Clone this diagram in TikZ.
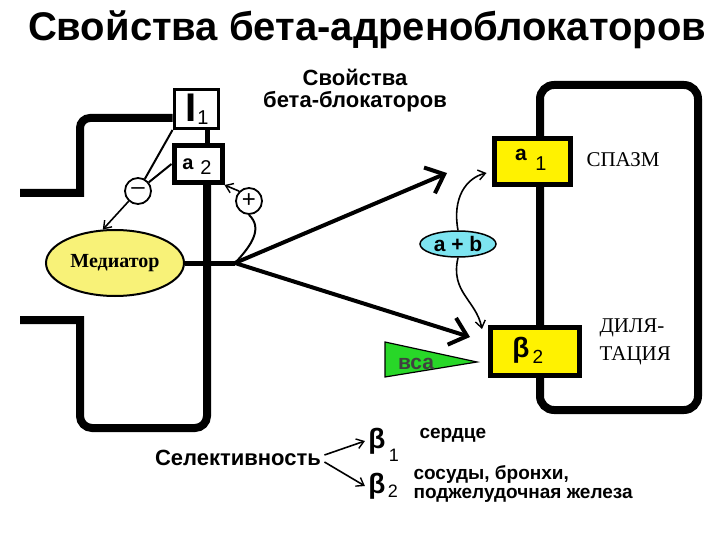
\documentclass[tikz,border=0pt]{standalone}
\usepackage{fontspec}
\setmainfont{Liberation Sans}
\newfontfamily\rmsl{Liberation Serif}
\usetikzlibrary{positioning,calc,shapes,arrows.meta,backgrounds}

\definecolor{medyellow}{RGB}{248,242,120}
\definecolor{abcyan}{RGB}{125,228,240}
\definecolor{vcagreen}{RGB}{40,215,40}

\newcommand{\fs}[1]{\fontsize{#1}{#1}\selectfont}

\begin{document}
\begin{tikzpicture}[x=1pt,y=-1pt,
membrane/.style={line width=8pt},
receptor/.style={rectangle, draw, line width=5pt, fill=yellow, inner sep=0pt, font=\bfseries\fs{18}},
autorec/.style={rectangle, draw, line width=3pt, fill=white, inner sep=0pt},
sign/.style={circle, draw, line width=1.8pt, fill=white, minimum size=26pt, inner sep=0pt, font=\fs{24}},
thinline/.style={line width=2pt},
thinarrow/.style={line width=1.6pt, -{Straight Barb[length=7pt,width=10pt,line width=1.4pt]}},
bigarrow/.style={line width=4pt, -{Straight Barb[length=16pt,width=28pt,line width=4pt]}},
label/.style={font=\bfseries\fs{19}}
]
\useasboundingbox (0,0) rectangle (720,540);

% titles
\node at (367,30) (title) {\bfseries\fs{40}Свойства бета-адреноблокаторов};
\node [align=center, font=\bfseries\fs{22}, text depth=0pt] at (355,88) (sub) {Свойства\\[0pt]бета-блокаторов};

% presynaptic side
\node [autorec, minimum width=44pt, minimum height=39pt] at (196,109) (I1) {};
\node at (191,108) {\bfseries\fs{40}I};
\node at (203,118) {\fs{20}1};
\node [autorec, line width=5pt, minimum width=48pt, minimum height=37pt] at (198,164) (a2) {};
\node at (188,164) {\bfseries\fs{20}a};
\node at (206,168) {\fs{20}2};

\node [ellipse, draw, line width=2pt, fill=medyellow, minimum width=138pt, minimum height=66pt, font=\rmsl\bfseries\fs{20}] at (115,263) (med) {Медиатор};
\coordinate (jn) at (235,263);

\node [sign] at (138,191) (minus) {–};
\node [sign] at (249,201) (plus) {+};

% postsynaptic side
\node [receptor, minimum width=76pt, minimum height=46pt] at (532,162) (a1) {};
\node at (521,155) {\bfseries\fs{21}a};
\node at (541,164) {\fs{20}1};
\node [receptor, minimum width=89pt, minimum height=48pt] at (535,351) (b2) {};
\node at (521,350) {\bfseries\fs{28}β};
\node at (538,357) {\fs{19}2};

\node [font=\rmsl\fs{21}] at (623,160) (spasm) {СПАЗМ};
\node [font=\rmsl\fs{21}, align=left, anchor=west] at (596,342) (dil) {ДИЛЯ-\\[7pt]ТАЦИЯ};

\node [ellipse, draw, line width=1.5pt, fill=abcyan, minimum width=76pt, minimum height=26pt, inner sep=0pt, font=\bfseries\fs{21}] at (458,244) (ab) {a + b};

\coordinate (t1) at (447,173);
\coordinate (t2) at (470,337);

% green triangle
\draw [line width=1.2pt, fill=vcagreen] (385,342) -- (477,362) -- (385,377) -- cycle;
\node [font=\bfseries\fs{21}, text=black!75] at (416,364) (vca) {вса};

% membranes
\begin{scope}[on background layer]
\draw [membrane] (20,193) -- (80,193) [rounded corners=10pt] -- (80,118) -- ($(I1.west)+(0,9)$);
\draw [membrane] (20,320) -- (80,320) [rounded corners=12pt] -- (80,428) -- (207,428) -- (207,185);
\draw [line width=5pt] (207,128) -- (207,146);
\draw [membrane, rounded corners=14pt] (540,85) rectangle (698,410);
\draw [line width=5pt] (med.east) -- (jn);
\end{scope}

% connectors
\draw [bigarrow] (jn) -- (t1);
\draw [bigarrow] (jn) -- (t2);

\draw [thinline] (I1.south west) -- (minus);
\draw [thinline] (a2.west) -- (minus);
\draw [thinarrow] (minus) -- (med.110);

\draw [thinline] (jn) .. controls (252,245) and (263,228) .. (plus.south);
\draw [thinarrow] (plus.north west) -- (a2.south east);

\draw [thinarrow] (ab.north) .. controls (452,198) and (466,178) .. ([shift={(-5,11)}]a1.west);
\draw [thinarrow] (ab.south) .. controls (450,292) and (476,300) .. ([shift={(-6,-22)}]b2.west);

% selectivity
\node [font=\bfseries\fs{22}] at (238,458) (sel) {Селективность};
\node at (377,441) (beta1) {\bfseries\fs{28}β};
\node at (394,455) {\fs{18}1};
\node at (377,486) (beta2) {\bfseries\fs{28}β};
\node at (393,491) {\fs{18}2};
\draw [thinarrow] ([yshift=3pt]sel.east) -- (beta1.west);
\draw [thinarrow] ([yshift=-4pt]sel.east) -- (beta2.west);

\node [label, anchor=west] at (416,435) (heart) {сердце};
\node [label, anchor=west, align=left] at (410,484) (vess) {сосуды, бронхи,\\[0pt]поджелудочная железа};
\end{tikzpicture}
\end{document}
